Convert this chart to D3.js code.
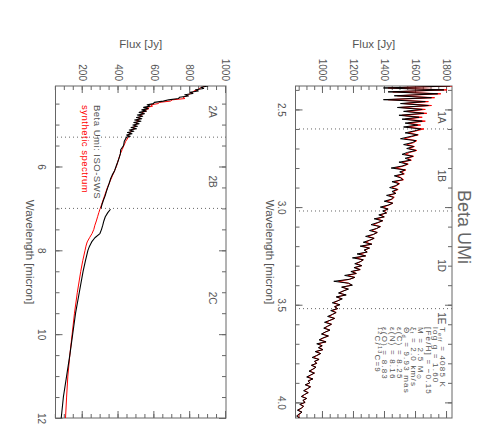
<!DOCTYPE html>
<html>
<head>
<meta charset="utf-8">
<script src="https://cdn.jsdelivr.net/npm/d3@7"></script>
<style>
  body { margin: 0; background: #fff; }
  svg { display: block; font-family: "Liberation Sans", Arial, sans-serif; }
  .axis text { font-size: 10px; fill: #555; }
  .axis path { display: none; }
  .axis line { stroke: #666; }
  .frame { fill: none; stroke: #666; stroke-width: 1; }
  .band-edge { stroke: #666; stroke-dasharray: 1 3; }
  .axis-title { font-size: 11.5px; fill: #555; text-anchor: middle; }
  .band-label { font-size: 10px; fill: #555; text-anchor: middle; }
  .chart-title { font-size: 18px; fill: #666; text-anchor: middle; }
  .legend { font-size: 9.5px; letter-spacing: 0.5px; }
  .params { font-size: 8px; fill: #555; letter-spacing: 1.2px; }
  .spectrum { fill: none; stroke-linejoin: round; }
</style>
</head>
<body>
<svg id="chart" width="479" height="445"></svg>
<script>
// ---- SWS band 1 (top panel): wavelength [micron], ISO-SWS flux and synthetic flux [Jy]
const band1Wave = [
  2.38, 2.39, 2.40,
  2.41, 2.42, 2.43, 2.44, 2.45, 2.46, 2.47, 2.48, 2.49, 2.50,
  2.51, 2.52, 2.53, 2.54, 2.55, 2.56, 2.57, 2.58, 2.59, 2.60,
  2.61, 2.62, 2.63, 2.64, 2.65, 2.66, 2.67, 2.68, 2.69, 2.70,
  2.71, 2.72, 2.73, 2.74, 2.75, 2.76, 2.77, 2.78, 2.79, 2.80,
  2.81, 2.82, 2.83, 2.84, 2.85, 2.86, 2.87, 2.88, 2.89, 2.90,
  2.91, 2.92, 2.93, 2.94, 2.95, 2.96, 2.97, 2.98, 2.99, 3.00,
  3.01, 3.02, 3.03, 3.04, 3.05, 3.06, 3.07, 3.08, 3.09, 3.10,
  3.11, 3.12, 3.13, 3.14, 3.15, 3.16, 3.17, 3.18, 3.19, 3.20,
  3.21, 3.22, 3.23, 3.24, 3.25, 3.26, 3.27, 3.28, 3.29, 3.30,
  3.31, 3.32, 3.33, 3.34, 3.35, 3.36, 3.37, 3.38, 3.39, 3.40,
  3.41, 3.42, 3.43, 3.44, 3.45, 3.46, 3.47, 3.48, 3.49, 3.50,
  3.51, 3.52, 3.53, 3.54, 3.55, 3.56, 3.57, 3.58, 3.59, 3.60,
  3.61, 3.62, 3.63, 3.64, 3.65, 3.66, 3.67, 3.68, 3.69, 3.70,
  3.71, 3.72, 3.73, 3.74, 3.75, 3.76, 3.77, 3.78, 3.79, 3.80,
  3.81, 3.82, 3.83, 3.84, 3.85, 3.86, 3.87, 3.88, 3.89, 3.90,
  3.91, 3.92, 3.93, 3.94, 3.95, 3.96, 3.97, 3.98, 3.99, 4.00,
  4.01, 4.02, 4.03, 4.04, 4.05, 4.06, 4.07, 4.08
];
const band1Obs = [
  1820, 1390, 1780,
  1420, 1740, 1460, 1700, 1390, 1660, 1500, 1680, 1480, 1640,
  1520, 1650, 1490, 1620, 1510, 1640, 1530, 1610, 1520, 1630,
  1590, 1530, 1610, 1555, 1500, 1600, 1575, 1520, 1585, 1540,
  1600, 1545, 1510, 1580, 1530, 1565, 1490, 1545, 1510, 1440,
  1530, 1495, 1520, 1460, 1500, 1515, 1445, 1490, 1470, 1430,
  1480, 1445, 1470, 1410, 1455, 1440, 1395, 1450, 1420, 1370,
  1420, 1385, 1410, 1360, 1395, 1330, 1385, 1350, 1310, 1370,
  1345, 1300, 1350, 1325, 1275, 1330, 1300, 1260, 1315, 1240,
  1300, 1265, 1285, 1220, 1275, 1190, 1260, 1240, 1205, 1250,
  1200, 1240, 1180, 1215, 1140, 1205, 1170, 1070, 1165, 1190,
  1120, 1165, 1130, 1100, 1150, 1085, 1125, 1095, 1060, 1110,
  1075, 1095, 1050, 1085, 1060, 1030, 1075, 1045, 1010, 1055,
  1030, 1005, 1045, 1015, 990, 1035, 1000, 975, 1020, 960,
  995, 970, 1000, 950, 985, 960, 930, 975, 945, 960,
  925, 955, 935, 910, 945, 920, 895, 935, 905, 915,
  885, 920, 900, 875, 905, 880, 860, 895, 870, 885,
  850, 875, 860, 835, 865, 845, 830, 850
];
const band1Syn = [
  1840, 1420, 1800,
  1450, 1760, 1480, 1720, 1420, 1680, 1520, 1700, 1500, 1660,
  1540, 1670, 1510, 1640, 1530, 1660, 1550, 1630, 1540, 1650,
  1600, 1550, 1615, 1570, 1525, 1605, 1585, 1540, 1590, 1555,
  1605, 1560, 1530, 1585, 1545, 1570, 1510, 1550, 1520, 1465,
  1535, 1505, 1525, 1475, 1505, 1520, 1460, 1495, 1475, 1445,
  1485, 1455, 1470, 1425, 1460, 1445, 1410, 1450, 1425, 1385,
  1420, 1395, 1410, 1370, 1395, 1345, 1385, 1355, 1325, 1370,
  1345, 1315, 1350, 1325, 1290, 1330, 1300, 1275, 1315, 1255,
  1300, 1270, 1285, 1235, 1275, 1210, 1260, 1240, 1215, 1250,
  1205, 1240, 1190, 1215, 1160, 1205, 1170, 1100, 1165, 1185,
  1125, 1160, 1130, 1105, 1145, 1090, 1120, 1095, 1070, 1105,
  1075, 1095, 1060, 1085, 1060, 1040, 1075, 1045, 1020, 1055,
  1030, 1010, 1045, 1015, 995, 1035, 1005, 980, 1020, 970,
  995, 975, 1000, 955, 985, 960, 940, 975, 948, 960,
  928, 955, 935, 915, 945, 922, 902, 935, 905, 915,
  890, 920, 900, 880, 905, 882, 866, 895, 872, 885,
  855, 875, 860, 840, 865, 848, 836, 850
];

// ---- SWS band 2A, 2B, 2C (bottom panel)
const band2AWave = [
  4.08, 4.11, 4.14, 4.17, 4.20, 4.23, 4.26, 4.29, 4.32, 4.35, 4.38, 4.41,
  4.44, 4.47, 4.50, 4.53, 4.56, 4.59, 4.62, 4.65, 4.68, 4.71, 4.74, 4.77,
  4.80, 4.83, 4.86, 4.89, 4.92, 4.95, 4.98, 5.01, 5.04, 5.07, 5.10, 5.13,
  5.16, 5.19, 5.22, 5.25, 5.28
];
const band2AObs = [
  900, 860, 875, 830, 845, 800, 815, 770, 790, 740, 735, 680,
  650, 600, 595, 560, 575, 540, 565, 530, 555, 515, 545, 505,
  535, 500, 530, 490, 525, 485, 515, 480, 505, 470, 500, 460,
  485, 450, 475, 445, 465
];
const band2ASyn = [
  880, 870, 850, 845, 820, 815, 800, 790, 780, 760, 770, 700,
  690, 630, 620, 580, 590, 560, 570, 545, 555, 530, 540, 520,
  530, 510, 520, 500, 515, 495, 505, 490, 495, 480, 490, 470,
  475, 460, 465, 450, 455
];
const band2BWave = [5.3, 5.4, 5.5, 5.6, 5.7, 5.8, 5.9, 6.0, 6.1, 6.2, 6.3, 6.4, 6.5, 6.6, 6.7, 6.8, 6.9, 7.0];
const band2BObs = [445, 432, 428, 412, 410, 403, 395, 386, 378, 365, 355, 348, 340, 332, 325, 316, 308, 302];
const band2BSyn = [455, 440, 430, 420, 410, 402, 395, 388, 378, 368, 358, 348, 338, 330, 322, 314, 306, 298];
const band2CWave = [7.02, 7.1, 7.2, 7.3, 7.4, 7.5, 7.6, 7.7, 7.8, 7.9, 8.0, 8.25, 8.5, 9.0, 9.5, 10.0, 10.5, 11.0, 11.5, 12.0];
const band2CObs = [355, 340, 326, 318, 312, 305, 296, 268, 250, 238, 229, 215, 202, 181, 160, 144, 128, 110, 92, 80];
const band2CSyn = [296, 290, 283, 276, 268, 262, 252, 238, 225, 218, 213, 200, 189, 170, 154, 141, 128, 117, 110, 104];

// ---- axes, band edges and labels
const topFluxTicks = [1000, 1200, 1400, 1600, 1800];
const botFluxTicks = [200, 400, 600, 800, 1000];
const topWaveTicks = [2.5, 3.0, 3.5, 4.0];
const botWaveTicks = [6, 8, 10, 12];
const topBandEdges = [2.60, 3.02, 3.52];
const botBandEdges = [5.30, 7.00];
const topBandNames = ['1A', '1B', '1D', '1E'];
const topBandPos = [2.54, 2.84, 3.30, 3.57];
const botBandNames = ['2A', '2B', '2C'];
const botBandPos = [4.69, 6.36, 9.14];

const zip = (w, f) => w.map((d, i) => [d, f[i]]);

/**
 * One panel of the spectrum, drawn in the un-rotated (landscape) frame
 */
class SpectrumPanel {

    constructor(_config, _data) {
        this.config = {
            parentElement: _config.parentElement,
            id: _config.id,
            left: _config.left || 86,
            top: _config.top,
            width: _config.width || 332,
            height: _config.height,
            xDomain: _config.xDomain,
            yDomain: _config.yDomain,
            xTicks: _config.xTicks,
            xMinor: _config.xMinor,
            yTicks: _config.yTicks,
            yMinor: _config.yMinor,
            xFormat: _config.xFormat,
            edges: _config.edges,
            bandNames: _config.bandNames,
            bandPos: _config.bandPos,
            bandY: _config.bandY
        }
        this.data = _data;
        this.initVis();
    }

    initVis() {
        let vis = this;
        const c = vis.config;

        vis.xScale = d3.scaleLinear().domain(c.xDomain).range([0, c.width]);
        vis.yScale = d3.scaleLinear().domain(c.yDomain).range([c.height, 0]);

        vis.chart = c.parentElement.append('g')
            .attr('transform', `translate(${c.left},${c.top})`);

        vis.chart.append('clipPath')
            .attr('id', `clip-${c.id}`)
            .append('rect')
            .attr('width', c.width)
            .attr('height', c.height);

        // ticks on all four sides, pointing inwards
        const axes = [
            [d3.axisBottom(vis.xScale).tickValues(c.xTicks).tickSizeInner(-7).tickPadding(10).tickFormat(c.xFormat), c.height],
            [d3.axisBottom(vis.xScale).tickValues(c.xMinor).tickSize(-4).tickFormat(''), c.height],
            [d3.axisTop(vis.xScale).tickValues(c.xTicks).tickSize(-7).tickFormat(''), 0],
            [d3.axisTop(vis.xScale).tickValues(c.xMinor).tickSize(-4).tickFormat(''), 0]
        ];
        axes.forEach(([ax, y]) => {
            vis.chart.append('g').attr('class', 'axis')
                .attr('transform', `translate(0,${y})`)
                .call(ax.tickSizeOuter(0));
        });
        const yAxes = [
            [d3.axisLeft(vis.yScale).tickValues(c.yTicks).tickSizeInner(-7).tickPadding(5).tickFormat(d3.format('d')), 0],
            [d3.axisLeft(vis.yScale).tickValues(c.yMinor).tickSize(-4).tickFormat(''), 0],
            [d3.axisRight(vis.yScale).tickValues(c.yTicks).tickSize(-7).tickFormat(''), c.width],
            [d3.axisRight(vis.yScale).tickValues(c.yMinor).tickSize(-4).tickFormat(''), c.width]
        ];
        yAxes.forEach(([ax, x]) => {
            vis.chart.append('g').attr('class', 'axis')
                .attr('transform', `translate(${x},0)`)
                .call(ax.tickSizeOuter(0));
        });

        // band boundaries
        vis.chart.selectAll('.band-edge')
            .data(c.edges)
            .enter()
            .append('line')
            .attr('class', 'band-edge')
            .attr('x1', d => vis.xScale(d))
            .attr('x2', d => vis.xScale(d))
            .attr('y1', 0)
            .attr('y2', c.height);

        vis.chart.selectAll('.band-label')
            .data(c.bandNames)
            .enter()
            .append('text')
            .attr('class', 'band-label')
            .attr('x', (d, i) => vis.xScale(c.bandPos[i]))
            .attr('y', c.bandY)
            .text(d => d);

        // axis titles
        vis.chart.append('text')
            .attr('class', 'axis-title')
            .attr('transform', `translate(${-38},${c.height / 2}) rotate(-90)`)
            .text('Flux [Jy]');

        vis.chart.append('text')
            .attr('class', 'axis-title')
            .attr('x', c.width / 2)
            .attr('y', c.height + 29.5)
            .text('Wavelength [micron]');

        vis.chart.append('rect')
            .attr('class', 'frame')
            .attr('width', c.width)
            .attr('height', c.height);

        vis.renderVis();
    }

    renderVis() {
        let vis = this;

        const line = d3.line()
            .x(d => vis.xScale(d[0]))
            .y(d => vis.yScale(d[1]));

        vis.chart.append('g')
            .attr('clip-path', `url(#clip-${vis.config.id})`)
            .selectAll('.spectrum')
            .data(vis.data)
            .enter()
            .append('path')
            .attr('class', 'spectrum')
            .attr('stroke', d => d.color)
            .attr('stroke-width', d => d.width)
            .attr('d', d => line(d.points));
    }
}

// whole figure is a landscape plot turned by 90 degrees
const root = d3.select('#chart').append('g')
    .attr('transform', 'translate(479,0) rotate(90)');

root.append('text')
    .attr('class', 'chart-title')
    .attr('x', 227)
    .attr('y', 21)
    .text('Beta UMi');

new SpectrumPanel({
    parentElement: root,
    id: 'band1',
    top: 27,
    height: 156.5,
    xDomain: [2.38, 4.08],
    yDomain: [823, 1832],
    xTicks: topWaveTicks,
    xMinor: d3.range(24, 41).map(d => d / 10),
    yTicks: topFluxTicks,
    yMinor: d3.range(17, 37).map(d => d * 50),
    xFormat: d3.format('.1f'),
    edges: topBandEdges,
    bandNames: topBandNames,
    bandPos: topBandPos,
    bandY: 14
}, [
    { color: '#ff0000', width: 1, points: zip(band1Wave, band1Syn) },
    { color: '#000', width: 1, points: zip(band1Wave, band1Obs) }
]);

new SpectrumPanel({
    parentElement: root,
    id: 'band2',
    top: 253,
    height: 170.5,
    xDomain: [4.08, 12],
    yDomain: [48, 1000],
    xTicks: botWaveTicks,
    xMinor: d3.range(9, 25).map(d => d / 2),
    yTicks: botFluxTicks,
    yMinor: d3.range(1, 21).map(d => d * 50),
    xFormat: d3.format('d'),
    edges: botBandEdges,
    bandNames: botBandNames,
    bandPos: botBandPos,
    bandY: 17
}, [
    { color: '#ff0000', width: 1, points: zip(band2AWave.concat(band2BWave, band2CWave), band2ASyn.concat(band2BSyn, band2CSyn)) },
    { color: '#000', width: 1.1, points: zip(band2AWave.concat(band2BWave), band2AObs.concat(band2BObs)) },
    { color: '#000', width: 1.1, points: zip(band2CWave, band2CObs) }
]);

// stellar parameters of the model; second item: 'sub' or 'super'
const paramLines = [
    [['T'], ['eff', 'sub'], [' = 4085 K']],
    [['log g = 1.60']],
    [['[Fe/H] = \u22120.15']],
    [['M = 2.5 M'], ['\u2299', 'sub']],
    [['\u03be'], ['t', 'sub'], [' = 2.0 km/s']],
    [['\u0398'], ['d', 'sub'], [' = 9.93 mas']],
    [['\u03b5(C) = 8.25']],
    [['\u03b5(N) = 8.16']],
    [['\u03b5(O) = 8.83']],
    [['12', 'super'], ['C/'], ['13', 'super'], ['C=9']]
];
const shiftOf = { sub: 1.6, super: -2.8 };

root.append('g')
    .selectAll('text')
    .data(paramLines)
    .enter()
    .append('text')
    .attr('class', 'params')
    .attr('x', 327)
    .attr('y', (d, i) => 39 + i * 7.2)
    .each(function (segs) {
        const t = d3.select(this);
        let cur = 0;
        segs.forEach(([s, shift]) => {
            const target = shift ? shiftOf[shift] : 0;
            const ts = t.append('tspan').attr('dy', target - cur).text(s);
            if (shift) ts.style('font-size', '5.5px');
            cur = target;
        });
    });

// legend of the lower panel
root.append('text')
    .attr('class', 'legend')
    .attr('x', 105)
    .attr('y', 385)
    .attr('fill', '#555')
    .text('Beta Umi: ISO-SWS');

root.append('text')
    .attr('class', 'legend')
    .attr('x', 105)
    .attr('y', 397.5)
    .attr('fill', '#ff0000')
    .text('synthetic spectrum');
</script>
</body>
</html>
